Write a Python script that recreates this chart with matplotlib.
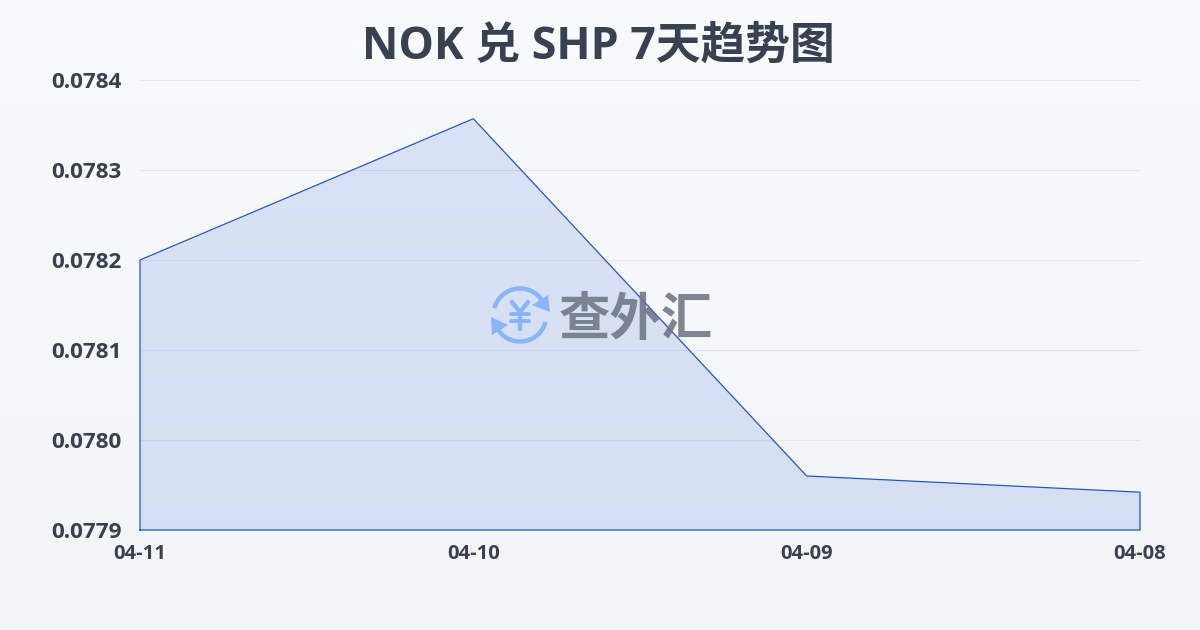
import numpy as np
import matplotlib
matplotlib.use('Agg')
import matplotlib.pyplot as plt
from matplotlib.patches import Arc, Polygon

plt.rcParams['font.family'] = ['Open Sans', 'Noto Sans CJK SC', 'DejaVu Sans']

# data
dates = ['04-11', '04-10', '04-09', '04-08']
rates = [0.07820, 0.078357, 0.07796, 0.077942]
y_ticks = [0.0779, 0.0780, 0.0781, 0.0782, 0.0783, 0.0784]
title = 'NOK 兑 SHP 7天趋势图'
text_color = '#374151'
line_color = '#2257c9'

W, H = 1200, 630
fig = plt.figure(figsize=(W / 100, H / 100), dpi=100)

# background gradient
bg = fig.add_axes([0, 0, 1, 1], zorder=0)
top = np.array([0xf8, 0xfa, 0xfc]) / 255
bottom = np.array([0xf3, 0xf4, 0xf6]) / 255
t = np.linspace(0, 1, 256)[:, None, None]
bg.imshow(top * (1 - t) + bottom * t, aspect='auto', extent=[0, 1, 0, 1])
bg.axis('off')

# plot area is 140..1140 x 80..530 in pixels
ax = fig.add_axes([140 / W, 1 - 530 / H, 1000 / W, 450 / H], zorder=1)
ax.patch.set_alpha(0)
x = np.arange(len(dates))
ax.fill_between(x, rates, y_ticks[0], color='#2358d8', alpha=0.14, lw=0)
outline_x = [x[0], *x, x[-1], x[0]]
outline_y = [y_ticks[0], *rates, y_ticks[0], y_ticks[0]]
ax.plot(outline_x, outline_y, color=line_color, lw=0.9, clip_on=False)

ax.set_xlim(x[0], x[-1])
ax.set_ylim(y_ticks[0], y_ticks[-1])
ax.set_xticks(x, dates)
ax.set_yticks(y_ticks, [f'{v:.4f}' for v in y_ticks])
ax.grid(axis='y', color='#e5e7eb', lw=0.8)
ax.set_axisbelow(True)
for s in ax.spines.values():
    s.set_visible(False)
ax.tick_params(axis='x', length=0, pad=10, labelsize=14.5, labelcolor=text_color)
ax.tick_params(axis='y', length=0, pad=13, labelsize=16.2, labelcolor=text_color)
for lab in ax.get_xticklabels() + ax.get_yticklabels():
    lab.set_fontweight('bold')

fig.text(0.499, 1 - 47 / H, title, ha='center', va='center', fontsize=32.2,
         fontweight='bold', color=text_color)

# watermark, drawn in pixel coordinates
wm = fig.add_axes([0, 0, 1, 1], zorder=2)
wm.axis('off')
blue = '#8ab4f8'
cx, cy = 520, 315
# y axis is flipped here, so arc angles run clockwise on screen
wm.add_patch(Arc((cx, cy), 53, 53, theta1=195, theta2=330, color=blue, lw=3.2))
wm.add_patch(Arc((cx, cy), 53, 53, theta1=15, theta2=150, color=blue, lw=3.2))
wm.add_patch(Polygon([[548, 295], [550, 312], [532, 305]], color=blue, lw=0))
wm.add_patch(Polygon([[491, 317], [508, 325], [492, 335]], color=blue, lw=0))
wm.plot([512, 520, 528], [302, 312, 302], color=blue, lw=3.2, solid_capstyle='round')
wm.plot([520, 520], [312, 329], color=blue, lw=3.2, solid_capstyle='round')
wm.plot([511, 529], [314, 314], color=blue, lw=2.8, solid_capstyle='round')
wm.plot([511, 529], [321, 321], color=blue, lw=2.8, solid_capstyle='round')
wm.set_xlim(0, W)
wm.set_ylim(H, 0)
wm.text(636, 319, '查外汇', ha='center', va='center', fontsize=37, fontweight='bold',
        color='#6b7280', alpha=0.85, family=['Noto Sans CJK SC', 'DejaVu Sans'])

fig.savefig('out.png', dpi=100)
